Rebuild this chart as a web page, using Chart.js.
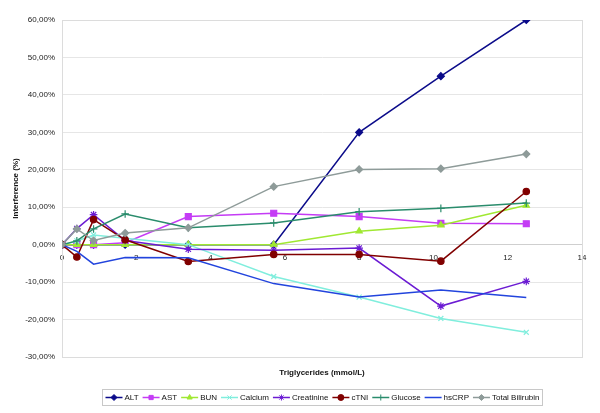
<!DOCTYPE html>
<html>
<head>
<meta charset="utf-8">
<title>Interference vs Triglycerides</title>
<script src="https://cdn.jsdelivr.net/npm/chart.js@4.4.1/dist/chart.umd.min.js"></script>
<style>
    html, body { margin: 0; padding: 0; background: #ffffff; }
    #chart-box { width: 600px; height: 413px; }
</style>
</head>
<body>
<div id="chart-box"><canvas id="interference-chart" width="600" height="413"></canvas></div>
<script>
// Triglycerides concentration (mmol/L) for each sample
const triglycerides = [0, 0.4, 0.85, 1.7, 3.4, 5.7, 8.0, 10.2, 12.5];

// Interference (%) per analyte
const altValues = [0, 0, 0, 0, 0, 0, 30.0, 45.0, 60.0];
const astValues = [0, 0, 0, 0.5, 7.5, 8.4, 7.5, 5.7, 5.6];
const bunValues = [0, 0, 0, 0, 0, 0, 3.6, 5.2, 10.5];
const calciumValues = [0, 1.0, 2.6, 1.7, 0, -8.5, -14.0, -19.7, -23.4];
const creatinineValues = [0, 4.3, 8.0, 1.1, -1.2, -1.5, -0.9, -16.4, -9.8];
const ctniValues = [0, -3.3, 6.7, 1.3, -4.5, -2.6, -2.6, -4.4, 14.2];
const glucoseValues = [0, 1.0, 4.2, 8.2, 4.5, 5.8, 8.8, 9.7, 11.1];
const hscrpValues = [0, -1.8, -5.2, -3.4, -3.5, -10.4, -14.0, -12.1, -14.1];
const bilirubinValues = [0, 4.2, 1.1, 3.1, 4.5, 15.5, 20.1, 20.3, 24.2];

// Axis ticks
const xTickValues = [0, 2, 4, 6, 8, 10, 12, 14];
const yTickValues = [-30, -20, -10, 0, 10, 20, 30, 40, 50, 60];

const FONT_FAMILY = 'Arial, "Liberation Sans", Helvetica, sans-serif';

// Build one line series from x values and y values
function makeSeries(label, values, color, pointStyle, radius) {
    return {
        label: label,
        data: triglycerides.map((x, i) => ({ x: x, y: values[i] })),
        borderColor: color,
        backgroundColor: color,
        pointBackgroundColor: color,
        pointBorderColor: color,
        borderWidth: 1.5,
        pointStyle: pointStyle,
        pointRadius: radius,
        pointBorderWidth: 1.2,
        pointHoverRadius: radius,
        tension: 0
    };
}

const datasets = [
    makeSeries("ALT", altValues, "#0b0b8a", "rectRot", 3.5),
    makeSeries("AST", astValues, "#c43cf5", "rect", 4.2),
    makeSeries("BUN", bunValues, "#a0e832", "triangle", 3.6),
    makeSeries("Calcium", calciumValues, "#80eedd", "crossRot", 3.5),
    makeSeries("Creatinine", creatinineValues, "#6b1bd3", "star", 3.8),
    makeSeries("cTNI", ctniValues, "#800000", "circle", 3.2),
    makeSeries("Glucose", glucoseValues, "#2a8c6c", "cross", 3.8),
    makeSeries("hsCRP", hscrpValues, "#2244dd", "circle", 0),
    makeSeries("Total Bilirubin", bilirubinValues, "#8e9b99", "rectRot", 3.5)
];

// Later series go on top, like in the spreadsheet
datasets.forEach((ds, i) => { ds.order = datasets.length - i; });

// Frame around the plot area
const plotFrame = {
    id: "plotFrame",
    beforeDatasetsDraw(chart) {
        const { ctx, chartArea } = chart;
        ctx.save();
        ctx.strokeStyle = "#dcdcdc";
        ctx.lineWidth = 1;
        ctx.strokeRect(Math.round(chartArea.left) + 0.5, Math.round(chartArea.top) + 0.5,
            Math.round(chartArea.right - chartArea.left), Math.round(chartArea.bottom - chartArea.top));
        ctx.restore();
    }
};

// Legend with a line and a marker for every series, in a box
const boxedLegend = {
    id: "boxedLegend",
    afterDraw(chart) {
        const c = chart.ctx;
        const lineLen = 17, gap = 2, spacing = 4, padX = 3, boxH = 16;
        c.save();
        c.font = "8px " + FONT_FAMILY;
        const items = chart.data.datasets.map(ds => ({
            ds: ds,
            w: lineLen + gap + c.measureText(ds.label).width
        }));
        const total = items.reduce((s, it) => s + it.w, 0) + spacing * (items.length - 1);
        const boxW = Math.round(total + padX * 2);
        const cx = (chart.chartArea.left + chart.chartArea.right) / 2;
        const bx = Math.round(cx - boxW / 2) + 0.5;
        const by = 389.5;
        c.strokeStyle = "#c8c8c8";
        c.lineWidth = 1;
        c.strokeRect(bx, by, boxW, boxH);

        let x = bx + padX;
        const y = by + boxH / 2;
        items.forEach(it => {
            const ds = it.ds;
            c.strokeStyle = ds.borderColor;
            c.lineWidth = 1.5;
            c.beginPath();
            c.moveTo(x, y);
            c.lineTo(x + lineLen, y);
            c.stroke();
            if (ds.pointRadius > 0) {
                c.fillStyle = ds.pointBackgroundColor;
                c.strokeStyle = ds.pointBorderColor;
                c.lineWidth = 1;
                Chart.helpers.drawPoint(c, {
                    pointStyle: ds.pointStyle,
                    radius: Math.min(ds.pointRadius, 3),
                    borderWidth: 1
                }, x + lineLen / 2, y);
            }
            c.fillStyle = "#111111";
            c.textAlign = "left";
            c.textBaseline = "middle";
            c.fillText(ds.label, x + lineLen + gap, y + 0.5);
            x += it.w + spacing;
        });
        c.restore();
    }
};

function formatPercent(value) {
    return value.toFixed(2).replace(".", ",") + "%";
}

const ctx = document.getElementById("interference-chart").getContext("2d");

new Chart(ctx, {
    type: "line",
    data: { datasets: datasets },
    plugins: [plotFrame, boxedLegend],
    options: {
        responsive: false,
        devicePixelRatio: 1,
        animation: false,
        parsing: true,
        layout: { padding: { top: 20, right: 18, bottom: 0, left: 0 } },
        plugins: {
            legend: { display: false },
            tooltip: { enabled: false }
        },
        scales: {
            x: {
                type: "linear",
                position: { y: 0 },
                min: 0,
                max: 14,
                afterBuildTicks(scale) {
                    scale.ticks = xTickValues.map(v => ({ value: v }));
                },
                grid: { display: false, drawTicks: false },
                border: { display: true, color: "#cfcfcf", width: 1 },
                ticks: {
                    padding: 8,
                    color: "#222222",
                    font: { family: FONT_FAMILY, size: 8 },
                    maxRotation: 0,
                    callback: v => String(v)
                }
            },
            x2: {
                type: "linear",
                position: "bottom",
                min: 0,
                max: 14,
                grid: { display: false, drawTicks: false },
                border: { display: false },
                ticks: { display: false },
                afterFit(scale) { scale.height = 56; },
                title: {
                    display: true,
                    text: "Triglycerides (mmol/L)",
                    color: "#111111",
                    font: { family: FONT_FAMILY, size: 8, weight: "bold" },
                    padding: { top: 0, bottom: 35 }
                }
            },
            y: {
                type: "linear",
                position: "left",
                min: -30,
                max: 60,
                afterBuildTicks(scale) {
                    scale.ticks = yTickValues.map(v => ({ value: v }));
                },
                afterFit(scale) { scale.width = 62; },
                grid: { color: "#e6e6e6", drawTicks: false },
                border: { display: true, color: "#cfcfcf", width: 1 },
                ticks: {
                    padding: 7,
                    color: "#222222",
                    font: { family: FONT_FAMILY, size: 8 },
                    callback: v => formatPercent(v)
                },
                title: {
                    display: true,
                    text: "Interference (%)",
                    color: "#111111",
                    font: { family: FONT_FAMILY, size: 8, weight: "bold" },
                    padding: { top: 11, bottom: 0 }
                }
            }
        }
    }
});
</script>
</body>
</html>
